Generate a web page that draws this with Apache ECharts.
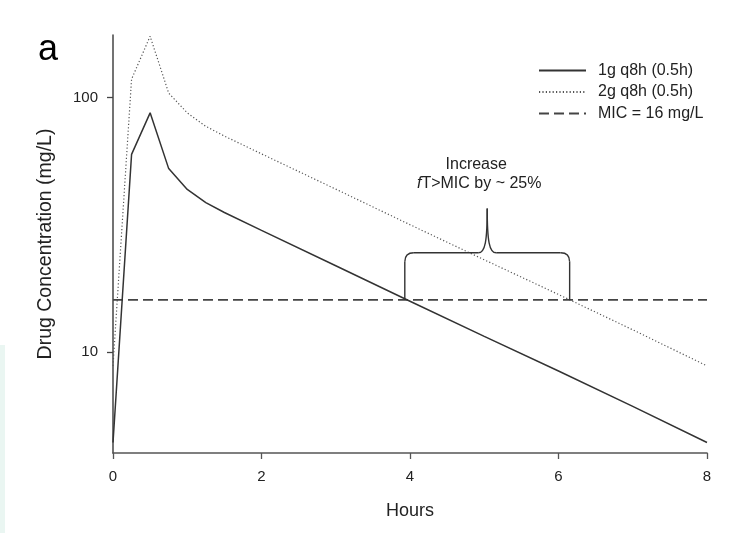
<!DOCTYPE html>
<html>
<head>
<meta charset="utf-8">
<script src="https://cdn.jsdelivr.net/npm/echarts@6/dist/echarts.min.js"></script>
<style>
  html, body { margin: 0; padding: 0; background: #fff; }
  #chart { width: 744px; height: 533px; }
</style>
</head>
<body>
<div id="chart"></div>
<script>
// Time after dose (hours)
const hours = [0, 0.25, 0.5, 0.75, 1, 1.25, 1.5, 2, 3, 4, 5, 6, 7, 8];
// Concentration profiles (mg/L), 0.5 h infusion every 8 h
const conc1g = [4.4, 59.7, 87, 52.5, 43.5, 38.6, 35.3, 30.0, 21.8, 15.8, 11.5, 8.4, 6.1, 4.4];
const conc2g = [8.8, 118, 174, 104, 87, 77, 70.5, 60, 43.6, 31.6, 23.0, 16.8, 12.2, 8.8];
// MIC threshold line
const micHours = [0, 8];
const micValue = 16;
// Axis ticks
const xTicks = [0, 2, 4, 6, 8];
const yTicks = [10, 100];
// Brace: start/end hours where each profile crosses MIC, shoulder and tip levels (mg/L)
const braceHours = [3.93, 6.15];
const braceLevels = [16, 24.5, 36.6];

const seriesNames = ['1g q8h (0.5h)', '2g q8h (0.5h)', 'MIC = 16 mg/L'];
const font = 'Liberation Sans, Arial, Helvetica, sans-serif';
const ink = '#222';

const pairs = (xs, ys) => xs.map((x, i) => [x, ys[i]]);

const chart = echarts.init(document.getElementById('chart'), null, { renderer: 'canvas' });

function renderBrace(params, api) {
  const x0 = api.value(0), x1 = api.value(1);
  const base = api.value(2), shoulder = api.value(3), tip = api.value(4);
  const xm = (x0 + x1) / 2;
  const pL = api.coord([x0, base]);
  const pR = api.coord([x1, base]);
  const ys = api.coord([x0, shoulder])[1];
  const pT = api.coord([xm, tip]);
  const r = 9;
  const lineStyle = { stroke: '#333', lineWidth: 1.4, fill: null };
  return {
    type: 'group',
    children: [
      { type: 'line', shape: { x1: pL[0], y1: pL[1], x2: pL[0], y2: ys + r }, style: lineStyle },
      { type: 'bezierCurve', shape: { x1: pL[0], y1: ys + r, cpx1: pL[0], cpy1: ys, x2: pL[0] + r, y2: ys }, style: lineStyle },
      { type: 'line', shape: { x1: pL[0] + r, y1: ys, x2: pT[0] - 9, y2: ys }, style: lineStyle },
      { type: 'bezierCurve', shape: { x1: pT[0] - 9, y1: ys, cpx1: pT[0] - 2, cpy1: ys, cpx2: pT[0], cpy2: ys - 12, x2: pT[0], y2: pT[1] }, style: lineStyle },
      { type: 'bezierCurve', shape: { x1: pT[0], y1: pT[1], cpx1: pT[0], cpy1: ys - 12, cpx2: pT[0] + 2, cpy2: ys, x2: pT[0] + 9, y2: ys }, style: lineStyle },
      { type: 'line', shape: { x1: pT[0] + 9, y1: ys, x2: pR[0] - r, y2: ys }, style: lineStyle },
      { type: 'bezierCurve', shape: { x1: pR[0] - r, y1: ys, cpx1: pR[0], cpy1: ys, x2: pR[0], y2: ys + r }, style: lineStyle },
      { type: 'line', shape: { x1: pR[0], y1: ys + r, x2: pR[0], y2: pR[1] }, style: lineStyle },
      {
        type: 'text',
        style: {
          x: pT[0] - 11, y: pT[1] - 44, text: 'Increase',
          textAlign: 'center', textVerticalAlign: 'middle',
          fontSize: 16, fontFamily: font, fill: ink
        }
      },
      {
        type: 'text',
        style: {
          x: pT[0] - 8, y: pT[1] - 25, text: '{i|f}T>MIC by ~ 25%',
          textAlign: 'center', textVerticalAlign: 'middle',
          fontSize: 16, fontFamily: font, fill: ink,
          rich: { i: { fontStyle: 'italic', fontSize: 16, fontFamily: font, fill: ink } }
        }
      }
    ]
  };
}

const option = {
  backgroundColor: '#fff',
  animation: false,
  textStyle: { fontFamily: font, color: ink },
  grid: { left: 113, right: 37, top: 35, bottom: 80 },
  graphic: [
    { type: 'text', left: 38, top: 32, style: { text: 'a', fontSize: 36, fontFamily: font, fill: '#000' } },
    { type: 'rect', left: 0, top: 345, shape: { width: 5, height: 188 }, style: { fill: '#eaf6f2' } }
  ],
  legend: {
    orient: 'vertical',
    left: 538,
    top: 62.5,
    padding: 0,
    itemWidth: 47,
    itemHeight: 16,
    itemGap: 5.5,
    data: seriesNames,
    itemStyle: { opacity: 0 },
    textStyle: { fontSize: 16, fontFamily: font, color: ink, padding: [0, 0, 0, 7] }
  },
  xAxis: {
    type: 'value',
    min: 0, max: 8, interval: 2,
    name: 'Hours',
    nameLocation: 'middle',
    nameGap: 49,
    nameTextStyle: { fontSize: 18, fontFamily: font, color: ink },
    axisLine: { lineStyle: { color: '#555', width: 1.6 } },
    axisTick: { show: true, inside: false, length: 6, lineStyle: { color: '#555', width: 1.3 } },
    axisLabel: { margin: 16, fontSize: 15, fontFamily: font, color: ink,
      customValues: xTicks },
    splitLine: { show: false }
  },
  yAxis: {
    type: 'log',
    logBase: 10,
    min: 4, max: 176,
    name: 'Drug Concentration (mg/L)',
    nameLocation: 'middle',
    nameGap: 57,
    nameRotate: 90,
    nameTextStyle: { fontSize: 19.5, fontFamily: font, color: ink },
    axisLine: { show: true, lineStyle: { color: '#444', width: 1.5 } },
    axisTick: { show: true, inside: false, length: 6, lineStyle: { color: '#444', width: 1.3 },
      customValues: yTicks },
    axisLabel: { margin: 15, fontSize: 15, fontFamily: font, color: ink,
      customValues: yTicks },
    splitLine: { show: false },
    minorTick: { show: false }
  },
  series: [
    {
      name: seriesNames[0],
      type: 'line',
      data: pairs(hours, conc1g),
      symbol: 'none',
      lineStyle: { color: '#333', width: 1.5, type: 'solid' },
      itemStyle: { color: '#333' },
      z: 3
    },
    {
      name: seriesNames[1],
      type: 'line',
      data: pairs(hours, conc2g),
      symbol: 'none',
      lineStyle: { color: '#555', width: 1.2, type: [1.2, 2.2] },
      itemStyle: { color: '#555' },
      z: 2
    },
    {
      name: seriesNames[2],
      type: 'line',
      data: micHours.map(h => [h, micValue]),
      symbol: 'none',
      lineStyle: { color: '#444', width: 1.8, type: [10, 5] },
      itemStyle: { color: '#444' },
      z: 2
    },
    {
      name: 'brace',
      type: 'custom',
      coordinateSystem: 'cartesian2d',
      renderItem: renderBrace,
      data: [[braceHours[0], braceHours[1], braceLevels[0], braceLevels[1], braceLevels[2]]],
      encode: { x: [0, 1], y: [2, 3, 4] },
      silent: true,
      z: 4
    }
  ]
};

chart.setOption(option);
</script>
</body>
</html>
